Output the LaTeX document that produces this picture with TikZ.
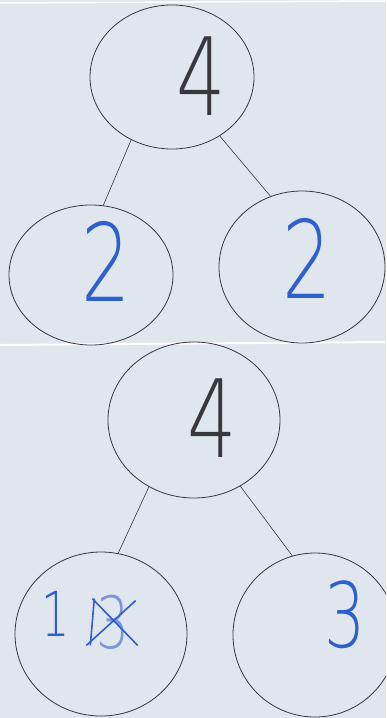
\documentclass[tikz,border=0pt]{standalone}
\usepackage{fontspec}
\newfontfamily\handfont{DejaVu Sans ExtraLight}
\usepackage{graphicx,xcolor}
\definecolor{paper}{RGB}{224,230,238}
\definecolor{pencil}{RGB}{55,55,60}
\definecolor{penblue}{RGB}{45,95,205}
\definecolor{penlight}{RGB}{125,150,215}
\usetikzlibrary{shapes.geometric}
\newcommand{\narrow}[1]{\scalebox{0.72}[1]{#1}}

\begin{document}
\begin{tikzpicture}[x=1pt,y=-1pt,
  bond/.style={draw=pencil,ellipse,line width=0.8pt,inner sep=0pt},
  digit/.style={inner sep=0pt,font=\handfont\fontsize{#1}{#1}\selectfont},
  digit/.default=108,
  stroke/.style={pencil,line width=0.6pt}]
  \clip (0,0) rectangle (386,718);
  \fill[paper] (0,0) rectangle (386,718);
  % sheet edges
  \draw[white,line width=1.5pt] (0,3) -- (386,1);
  \draw[white,line width=2pt] (0,345) -- (386,342);
  % first bond
  \node[bond,minimum width=164,minimum height=144] (topwhole) at (172,77) {};
  \node[bond,minimum width=164,minimum height=140] (topleft) at (91,275) {};
  \node[bond,minimum width=166,minimum height=152] (topright) at (302,267) {};
  \draw[stroke] (topwhole.237) -- (topleft.80);
  \draw[stroke] (topwhole.309) -- (topright.114);
  \node[digit,pencil] (topfour) at (201,76) {\narrow{4}};
  \node[digit,penblue] (lefttwo) at (106,261) {\narrow{2}};
  \node[digit,penblue] (righttwo) at (307,258) {\narrow{2}};
  % second bond
  \node[bond,minimum width=172,minimum height=156] (botwhole) at (194,420) {};
  \node[bond,minimum width=172,minimum height=164] (botleft) at (101,634) {};
  \node[bond,minimum width=164,minimum height=164] (botright) at (315,635) {};
  \draw[stroke] (botwhole.236) -- (botleft.78);
  \draw[stroke] (botwhole.305) -- (botright.106);
  \node[digit,pencil] (botfour) at (212,418) {\narrow{4}};
  \node[digit=62,penblue] (one) at (56,614) {\narrow{1}};
  \node[digit=72,penlight] (crossed) at (113,622) {\narrow{3}};
  \node[digit=90,penblue] (three) at (345,615) {\narrow{3}};
  % crossed out
  \draw[penblue,line width=1.6pt] ([shift={(-10,-4)}]crossed.south west) -- ([shift={(6,6)}]crossed.north east);
  \draw[penblue,line width=1.6pt] ([shift={(-4,4)}]crossed.north west) -- ([shift={(8,-4)}]crossed.south east);
  \draw[penblue,line width=1.6pt] ([shift={(-2,4)}]crossed.north west) -- ([shift={(-6,-4)}]crossed.south west);
\end{tikzpicture}
\end{document}
